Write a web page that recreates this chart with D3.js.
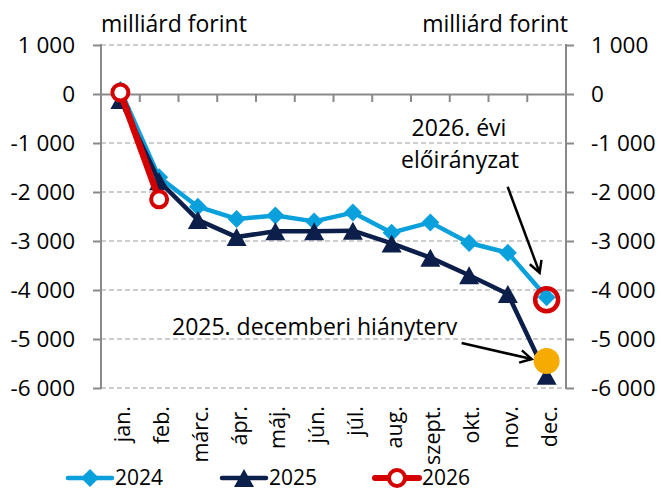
<!DOCTYPE html>
<html lang="hu">
<head>
<meta charset="utf-8">
<title>Költségvetési egyenleg</title>
<script src="https://d3js.org/d3.v7.min.js"></script>
<style>
  body { margin: 0; background: #fff; }
  svg text { font-family: "Open Sans", "Noto Sans", sans-serif; fill: #000; }
  .grid line { stroke: #bdbdbd; stroke-width: 1.5; stroke-dasharray: 5,3; }
  .axis-line { stroke: #898989; stroke-width: 2; fill: none; }
</style>
</head>
<body>
<svg id="chart" width="661" height="490"></svg>
<script>
// data (milliárd forint)
const months = ['jan.', 'feb.', 'márc.', 'ápr.', 'máj.', 'jún.', 'júl.', 'aug.', 'szept.', 'okt.', 'nov.', 'dec.'];
const y2024 = [80, -1700, -2300, -2550, -2480, -2600, -2420, -2830, -2620, -3040, -3240, -4150];
const y2025 = [-120, -1780, -2570, -2920, -2800, -2800, -2790, -3050, -3340, -3700, -4080, -5750];
const y2026 = [30, -2150];
const plan2026 = -4200;       // 2026. évi előirányzat
const plan2025Dec = -5450;    // 2025. decemberi hiányterv
const yTicks = [1000, 0, -1000, -2000, -3000, -4000, -5000, -6000];

const c2024 = '#0aa0dc', c2025 = '#0c1f4a', c2026 = '#d40000', cPlan = '#f5ab00';

const svg = d3.select('#chart');
const plotL = 101, plotR = 566, plotT = 45, plotB = 388;

const x = d3.scaleBand().domain(months).range([plotL, plotR]).padding(0);
const y = d3.scaleLinear().domain([-6000, 1000]).range([plotB, plotT]);
const cx = i => x(months[i]) + x.bandwidth() / 2;
const fmt = v => d3.format(',')(v).replace(/,/g, '\u00a0').replace('−', '-');

// dashed grid (not at zero)
svg.append('g').attr('class', 'grid')
  .selectAll('line')
  .data(yTicks.filter(d => d !== 0))
  .join('line')
  .attr('x1', plotL).attr('x2', plotR)
  .attr('y1', d => y(d)).attr('y2', d => y(d));

// left and right value axes
const leftAxis = d3.axisLeft(y).tickValues(yTicks).tickSize(8).tickPadding(18).tickFormat(fmt);
const rightAxis = d3.axisRight(y).tickValues(yTicks).tickSize(8).tickPadding(17).tickFormat(fmt);

[[leftAxis, plotL], [rightAxis, plotR]].forEach(([ax, pos]) => {
  const g = svg.append('g').attr('transform', `translate(${pos},0)`).call(ax);
  g.select('.domain').remove();
  g.selectAll('.tick line').attr('stroke', '#898989').attr('stroke-width', 2);
  g.selectAll('.tick text').style('font-size', '22.5px').attr('fill', '#000');
  g.append('line').attr('class', 'axis-line')
    .attr('x1', 0).attr('x2', 0).attr('y1', plotT - 1).attr('y2', plotB + 1);
});

// category axis at zero with tick marks between months
const catAxis = d3.axisBottom(x).tickSize(0).tickFormat('');
const gx = svg.append('g').attr('transform', `translate(0,${y(0)})`).call(catAxis);
gx.select('.domain').attr('stroke', '#898989').attr('stroke-width', 2);
gx.selectAll('.between')
  .data(months.slice(1))
  .join('line')
  .attr('x1', d => x(d)).attr('x2', d => x(d))
  .attr('y1', 0).attr('y2', 8)
  .attr('stroke', '#898989').attr('stroke-width', 2);

// month labels at the bottom, rotated
svg.append('g').selectAll('text')
  .data(months)
  .join('text')
  .attr('transform', (d, i) => `translate(${cx(i) + 10},406) rotate(-90)`)
  .attr('text-anchor', 'end')
  .style('font-size', '21.5px')
  .text(d => d);

// units
svg.append('text').attr('x', plotL).attr('y', 32).style('font-size', '23px').text('milliárd forint');
svg.append('text').attr('x', plotR + 2).attr('y', 32).attr('text-anchor', 'end')
  .style('font-size', '23px').text('milliárd forint');

// marker shapes
const diamond = r => `M0,${-r}L${r},0L0,${r}L${-r},0Z`;
const triangle = (w, h) => `M0,${-h / 2}L${w / 2},${h / 2}L${-w / 2},${h / 2}Z`;

const line = d3.line().x((d, i) => cx(i)).y(d => y(d));

// 2024
svg.append('path').datum(y2024).attr('d', line)
  .attr('fill', 'none').attr('stroke', c2024).attr('stroke-width', 4.5).attr('stroke-linejoin', 'round');
svg.append('g').selectAll('path').data(y2024).join('path')
  .attr('transform', (d, i) => `translate(${cx(i)},${y(d)})`)
  .attr('d', diamond(9)).attr('fill', c2024);

// 2025
svg.append('path').datum(y2025).attr('d', line)
  .attr('fill', 'none').attr('stroke', c2025).attr('stroke-width', 4.5).attr('stroke-linejoin', 'round');
svg.append('g').selectAll('path').data(y2025).join('path')
  .attr('transform', (d, i) => `translate(${cx(i)},${y(d)})`)
  .attr('d', triangle(20, 18)).attr('fill', c2025);

// 2026
svg.append('path').datum(y2026).attr('d', line)
  .attr('fill', 'none').attr('stroke', c2026).attr('stroke-width', 6.5);
svg.append('g').selectAll('circle').data(y2026).join('circle')
  .attr('cx', (d, i) => cx(i)).attr('cy', d => y(d)).attr('r', 8)
  .attr('fill', '#fff').attr('stroke', c2026).attr('stroke-width', 4);

// plan points in December
const dec = months.length - 1;
svg.append('circle').attr('cx', cx(dec)).attr('cy', y(plan2026)).attr('r', 11.5)
  .attr('fill', 'none').attr('stroke', c2026).attr('stroke-width', 4.5);
svg.append('circle').attr('cx', cx(dec)).attr('cy', y(plan2025Dec)).attr('r', 13)
  .attr('fill', cPlan);

// annotations with open arrows
function arrow(x1, y1, x2, y2) {
  const g = svg.append('g').attr('stroke', '#000').attr('stroke-width', 2.5).attr('fill', 'none');
  g.append('line').attr('x1', x1).attr('y1', y1).attr('x2', x2).attr('y2', y2);
  const a = Math.atan2(y2 - y1, x2 - x1), L = 13, s = 0.5;
  const p1 = [x2 - L * Math.cos(a - s), y2 - L * Math.sin(a - s)];
  const p2 = [x2 - L * Math.cos(a + s), y2 - L * Math.sin(a + s)];
  g.append('path').attr('d', `M${p1}L${x2},${y2}L${p2}`).attr('stroke-linejoin', 'miter');
}
arrow(cx(dec) - 39, y(plan2026) - 113, cx(dec) - 7, y(plan2026) - 27);
arrow(cx(dec) - 85, y(plan2025Dec) - 18, cx(dec) - 15, y(plan2025Dec) - 2);

svg.append('text').attr('x', 459).attr('y', 136).attr('text-anchor', 'middle')
  .style('font-size', '23px').text('2026. évi');
svg.append('text').attr('x', 460).attr('y', 168).attr('text-anchor', 'middle')
  .style('font-size', '23px').text('előirányzat');
svg.append('text').attr('x', 172).attr('y', 335)
  .style('font-size', '23px').text('2025. decemberi hiányterv');

// legend
const legend = [
  { name: '2024', color: c2024, x: 68 },
  { name: '2025', color: c2025, x: 222 },
  { name: '2026', color: c2026, x: 375 }
];
const lg = svg.append('g').selectAll('g').data(legend).join('g')
  .attr('transform', d => `translate(${d.x},478)`);
lg.append('line').attr('x1', 0).attr('x2', 44).attr('stroke', d => d.color)
  .attr('stroke-width', d => d.name === '2026' ? 6 : 4.5).attr('stroke-linecap', 'round');
lg.filter(d => d.name === '2024').append('path').attr('transform', 'translate(22,0)')
  .attr('d', diamond(9)).attr('fill', c2024);
lg.filter(d => d.name === '2025').append('path').attr('transform', 'translate(22,0)')
  .attr('d', triangle(20, 18)).attr('fill', c2025);
lg.filter(d => d.name === '2026').append('circle').attr('cx', 22).attr('r', 8)
  .attr('fill', '#fff').attr('stroke', c2026).attr('stroke-width', 4);
lg.append('text').attr('x', 47).attr('dy', '0.35em').style('font-size', '21px').text(d => d.name);
</script>
</body>
</html>
